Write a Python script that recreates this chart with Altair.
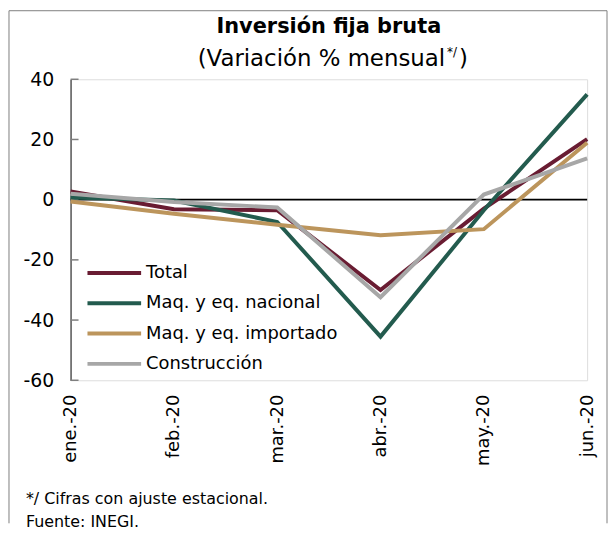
import altair as alt
import pandas as pd

months = ["ene.-20", "feb.-20", "mar.-20", "abr.-20", "may.-20", "jun.-20"]
series_names = ["Total", "Maq. y eq. nacional", "Maq. y eq. importado", "Construcción"]
total = [2.7, -3.2, -3.5, -30.0, -3.0, 20.1]
nacional = [0.7, -0.3, -7.4, -45.5, -3.5, 35.0]
importado = [-0.6, -4.7, -8.3, -11.8, -9.8, 18.9]
construccion = [2.0, -0.8, -2.6, -32.4, 1.7, 13.7]
colors = ["#691C32", "#235B4E", "#BC955C", "#A7A7A7"]
y_ticks = [40, 20, 0, -20, -40, -60]
title_text = "Inversión fija bruta"
subtitle_parts = ["(Variación % mensual", "*/", ")"]
footnotes = ["*/ Cifras con ajuste estacional.", "Fuente: INEGI."]

rows = []
for name, vals in zip(series_names, [total, nacional, importado, construccion]):
    for m, v in zip(months, vals):
        rows.append({"mes": m, "serie": name, "valor": v})
df = pd.DataFrame(rows)

FONT = "DejaVu Sans"
W, H = 520, 303

x_enc = alt.X("mes:N", sort=months,
              scale=alt.Scale(type="point", padding=0, domain=months),
              axis=alt.Axis(title=None, labelAngle=270, labelAlign="right",
                            labelBaseline="middle", labelPadding=14,
                            labelFontSize=18, labelColor="black", labelFont=FONT,
                            domain=False, ticks=False, grid=False))
y_scale = alt.Scale(domain=[-60, 40], nice=False, zero=False)
y_axis = alt.Axis(title=None, values=y_ticks, labelExpr="'' + datum.value",
                  labelFontSize=19, labelColor="black", labelFont=FONT,
                  labelPadding=17, ticks=False, tickSize=0, grid=False,
                  domainColor="#595959", domainWidth=1.5)

lines = alt.Chart(df).mark_line(strokeWidth=4, strokeCap="butt").encode(
    x=x_enc,
    y=alt.Y("valor:Q", scale=y_scale, axis=y_axis),
    color=alt.Color("serie:N", sort=series_names,
                    scale=alt.Scale(domain=series_names, range=colors),
                    legend=alt.Legend(title=None, orient="none", legendX=15, legendY=184,
                                      symbolType="stroke", symbolSize=2916,
                                      symbolStrokeWidth=4, clipHeight=22, rowPadding=8.5,
                                      labelOffset=3, labelFontSize=18, labelFont=FONT,
                                      labelColor="black", labelLimit=400, padding=0)),
)

ticks_df = pd.DataFrame({"valor": y_ticks})
zero = alt.Chart(ticks_df).mark_rule(color="black", strokeWidth=1.6).encode(
    y=alt.Y("z:Q", scale=y_scale, axis=y_axis), x=alt.value(0), x2=alt.value(W)
).transform_filter("datum.valor == 0").transform_calculate(z="datum.valor")

ticks = alt.Chart(ticks_df).mark_rule(color="#7f7f7f", strokeWidth=1.5).encode(
    y=alt.Y("valor:Q", scale=y_scale, axis=y_axis), x=alt.value(0), x2=alt.value(8))

one = ticks_df.head(1)


def label(txt, x, y, size, align="left", weight="normal", baseline="middle"):
    return alt.Chart(one).mark_text(align=align, baseline=baseline, fontSize=size,
                                    font=FONT, color="black", fontWeight=weight,
                                    text=txt).encode(x=alt.value(x), y=alt.value(y))


title = label(title_text, 260, -53, 21, align="center", weight="bold")
sub1 = label(subtitle_parts[0], 377, -20, 23, align="right")
sub2 = label(subtitle_parts[1], 379, -27, 12)
sub3 = label(subtitle_parts[2], 391, -20, 23)
fn1 = label(footnotes[0], -45, 423, 16)
fn2 = label(footnotes[1], -45, 446, 16)

border_l = alt.Chart(one).mark_rule(color="#7f7f7f", strokeWidth=1).encode(
    x=alt.value(-62), y=alt.value(-69), y2=alt.value(447))
border_r = alt.Chart(one).mark_rule(color="#7f7f7f", strokeWidth=1).encode(
    x=alt.value(540), y=alt.value(-69), y2=alt.value(447))
border_t = alt.Chart(one).mark_rule(color="#7f7f7f", strokeWidth=1).encode(
    x=alt.value(-62), x2=alt.value(540), y=alt.value(-69))

chart = alt.layer(border_l, border_r, border_t, zero, ticks, lines,
                  title, sub1, sub2, sub3, fn1, fn2).properties(
    width=W, height=H, padding=0,
).configure_view(stroke=None).configure(background="white")

chart.save("out.html", embed_options={"renderer": "svg", "actions": False})
